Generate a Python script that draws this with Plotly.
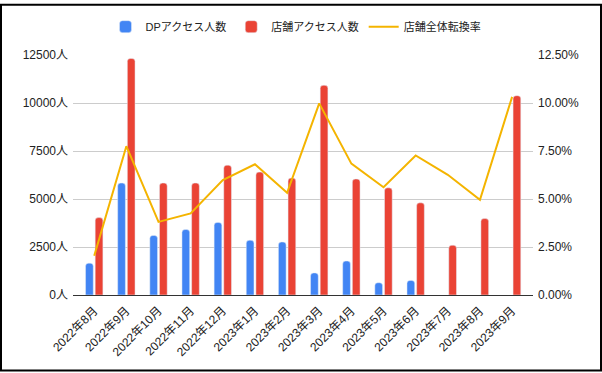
import plotly.graph_objects as go

categories = ["2022年8月", "2022年9月", "2022年10月", "2022年11月", "2022年12月",
              "2023年1月", "2023年2月", "2023年3月", "2023年4月", "2023年5月",
              "2023年6月", "2023年7月", "2023年8月", "2023年9月"]
dp_access = [1660, 5830, 3100, 3410, 3780, 2850, 2760, 1150, 1770, 640, 760, None, None, None]
store_access = [4030, 12320, 5830, 5830, 6760, 6400, 6090, 10920, 6040, 5580, 4800, 2590, 3980, 10380]
conversion_rate = [0.0204, 0.0775, 0.0381, 0.0425, 0.0599, 0.0681, 0.0532, 0.0998,
                   0.0684, 0.0561, 0.0727, 0.0626, 0.0496, 0.1032]
left_ticks = [0, 2500, 5000, 7500, 10000, 12500]
left_labels = [f"{v}人" for v in left_ticks]
right_ticks = [0, 0.025, 0.05, 0.075, 0.10, 0.125]

FONT = "Liberation Sans, Arial, Noto Sans CJK JP, sans-serif"
W, H = 602, 373
ML, MR, MT, MB = 73, 69, 52, 78

fig = go.Figure()
fig.add_trace(go.Bar(x=categories, y=dp_access, name="DPアクセス人数",
                     marker=dict(color="#4285f4", cornerradius=3), yaxis="y"))
fig.add_trace(go.Bar(x=categories, y=store_access, name="店舗アクセス人数",
                     marker=dict(color="#ea4335", cornerradius=3), yaxis="y"))
fig.add_trace(go.Scatter(x=categories, y=conversion_rate, name="店舗全体転換率",
                         mode="lines", line=dict(color="#f4b400", width=2), yaxis="y2"))

pw = W - ML - MR
ph = H - MT - MB
def px2paper_x(p):
    return (p - ML) / pw
def px2paper_y(p):
    return 1 - (p - MT) / ph

fig.update_layout(
    width=W, height=H,
    margin=dict(l=ML, r=MR, t=MT, b=MB),
    paper_bgcolor="white", plot_bgcolor="white",
    font=dict(family=FONT, size=12, color="#222222"),
    barmode="group", bargap=0.4, bargroupgap=0.2,
    showlegend=True,
    legend=dict(orientation="h", x=px2paper_x(296), xanchor="center", y=1.0 + 14 / ph, yanchor="bottom",
                font=dict(size=11, color="#222222"), itemwidth=30, tracegroupgap=0),
    xaxis=dict(type="category", range=[-0.66, 13.65], tickangle=-45,
               tickfont=dict(size=12, color="#222222"), showgrid=False,
               showline=True, linecolor="#333333", linewidth=1, ticks="",
               ticklabelstandoff=3),
    yaxis=dict(range=[0, 12500], tickvals=left_ticks, ticktext=left_labels,
               tickfont=dict(size=12, color="#222222"),
               showgrid=True, gridcolor="#cccccc", gridwidth=1, zeroline=False,
               showline=False, ticks="", ticklabelstandoff=4),
    yaxis2=dict(range=[0, 0.125], tickvals=right_ticks, tickformat=".2%",
                overlaying="y", side="right", showgrid=False, zeroline=False,
                tickfont=dict(size=12, color="#222222"), ticks="", ticklabelstandoff=4),
    shapes=[dict(type="rect", xref="paper", yref="paper",
                 x0=px2paper_x(1), x1=px2paper_x(W - 1),
                 y0=px2paper_y(H - 1.5), y1=px2paper_y(1),
                 line=dict(color="black", width=2), fillcolor="rgba(0,0,0,0)",
                 layer="below")],
)

fig.write_html("out.html", config={"displayModeBar": False},
               post_script="document.body.style.margin='0';document.body.style.overflow='hidden';")
